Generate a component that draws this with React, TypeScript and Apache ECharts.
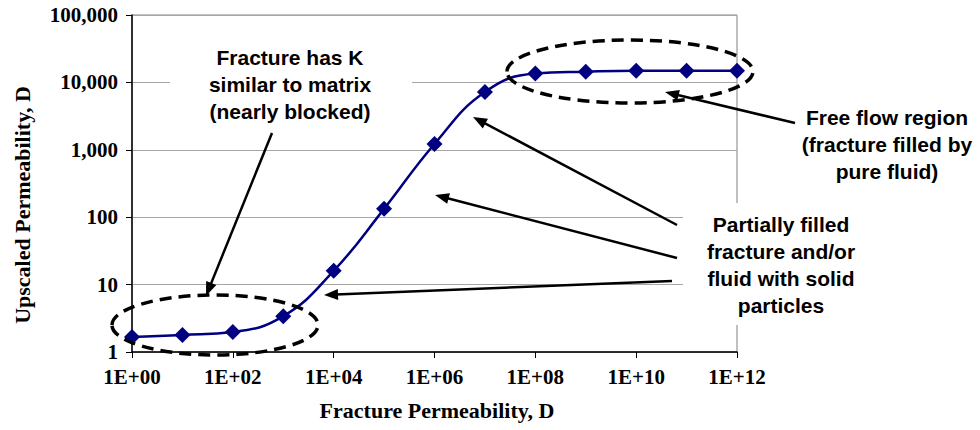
import React, { useEffect, useRef } from "react";
import * as echarts from "echarts";

// Data
const fracturePermeability = [1, 10, 100, 1e3, 1e4, 1e5, 1e6, 1e7, 1e8, 1e9, 1e10, 1e11, 1e12];
const upscaledPermeability = [1.67, 1.79, 1.98, 3.4, 16, 133, 1220, 7200, 13500, 14400, 14900, 14900, 14900];

const xAxisTitle = "Fracture Permeability, D";
const yAxisTitle = "Upscaled Permeability, D";

const noteBlocked = "Fracture has K\nsimilar to matrix\n(nearly blocked)";
const noteFree = "Free flow region\n(fracture filled by\npure fluid)";
const notePartial = "Partially filled\nfracture and/or\nfluid with solid\nparticles";

const SERIF = "'Liberation Serif', 'Times New Roman', serif";
const SANS = "'Liberation Sans', Arial, sans-serif";

function arrow(x1: number, y1: number, x2: number, y2: number) {
  const dx = x2 - x1;
  const dy = y2 - y1;
  const len = Math.sqrt(dx * dx + dy * dy);
  const ux = dx / len;
  const uy = dy / len;
  const L = 14;
  const W = 5.5;
  const bx = x2 - ux * L;
  const by = y2 - uy * L;
  const px = -uy;
  const py = ux;
  return [
    {
      type: "line",
      z: 50,
      shape: { x1, y1, x2: bx + ux * 2, y2: by + uy * 2 },
      style: { stroke: "#000", lineWidth: 2.5 },
    },
    {
      type: "polygon",
      z: 50,
      shape: {
        points: [
          [x2, y2],
          [bx + px * W, by + py * W],
          [bx - px * W, by - py * W],
        ],
      },
      style: { fill: "#000" },
    },
  ];
}

export default function App() {
  const ref = useRef<HTMLDivElement>(null);

  useEffect(() => {
    if (!ref.current) return;
    const chart = echarts.init(ref.current, null, { renderer: "svg" });

    const noteStyle = {
      fill: "#000",
      font: `bold 21px ${SANS}`,
      textAlign: "center",
      textVerticalAlign: "middle",
      lineHeight: 27,
    };

    chart.setOption({
      animation: false,
      backgroundColor: "#fff",
      grid: {
        left: 132,
        right: 243,
        top: 15,
        bottom: 78,
        show: true,
        borderColor: "#808080",
        borderWidth: 1,
        backgroundColor: "transparent",
      },
      xAxis: {
        type: "log",
        logBase: 100,
        min: 1,
        max: 1e12,
        interval: 1,
        splitNumber: 6,
        axisLine: { show: true, onZero: false, lineStyle: { color: "#000", width: 1.5 } },
        axisTick: { show: true, length: 6, lineStyle: { color: "#000", width: 1 } },
        splitLine: { show: false },
        minorTick: { show: false },
        axisLabel: {
          margin: 14,
          color: "#000",
          fontFamily: SERIF,
          fontWeight: "bold",
          fontSize: 21,
          formatter: (v: number) => {
            const e = Math.round(Math.log10(v));
            return "1E+" + String(e).padStart(2, "0");
          },
        },
      },
      yAxis: {
        type: "log",
        logBase: 10,
        min: 1,
        max: 100000,
        splitNumber: 5,
        axisLine: { show: true, onZero: false, lineStyle: { color: "#000", width: 1.5 } },
        axisTick: { show: true, length: 6, lineStyle: { color: "#000", width: 1 } },
        splitLine: { show: true, lineStyle: { color: "#a6a6a6", width: 1 } },
        axisLabel: {
          margin: 14,
          color: "#000",
          fontFamily: SERIF,
          fontWeight: "bold",
          fontSize: 21,
          formatter: (v: number) => Math.round(v).toLocaleString("en-US"),
        },
      },
      series: [
        {
          type: "line",
          data: fracturePermeability.map((x, i) => [x, upscaledPermeability[i]]),
          smooth: 0.45,
          symbol: "diamond",
          symbolSize: 16,
          lineStyle: { color: "#000080", width: 2.5 },
          itemStyle: { color: "#000080" },
          z: 5,
        },
      ],
      graphic: [
        // white text boxes covering grid lines
        { type: "rect", z: 20, shape: { x: 170, y: 38, width: 242, height: 94 }, style: { fill: "#fff" } },
        { type: "rect", z: 20, shape: { x: 683, y: 203, width: 200, height: 122 }, style: { fill: "#fff" } },
        // annotation texts
        { type: "text", z: 30, x: 290, y: 84, style: { ...noteStyle, text: noteBlocked } },
        { type: "text", z: 30, x: 887, y: 144, style: { ...noteStyle, text: noteFree } },
        { type: "text", z: 30, x: 781, y: 265, style: { ...noteStyle, text: notePartial } },
        // dashed ellipses
        {
          type: "ellipse",
          z: 40,
          shape: { cx: 215, cy: 325, rx: 103, ry: 30 },
          style: { fill: "none", stroke: "#000", lineWidth: 3.5, lineDash: [12, 7] },
        },
        {
          type: "ellipse",
          z: 40,
          shape: { cx: 630, cy: 71.5, rx: 123, ry: 31.5 },
          style: { fill: "none", stroke: "#000", lineWidth: 3.5, lineDash: [12, 7] },
        },
        // arrows
        ...arrow(272, 133, 206, 296),
        ...arrow(672, 281, 324, 295),
        ...arrow(677, 258, 435, 195),
        ...arrow(677, 225, 473, 117),
        ...arrow(795, 123, 665, 92),
        // axis titles
        {
          type: "text",
          z: 30,
          x: 437,
          y: 410,
          style: {
            text: xAxisTitle,
            fill: "#000",
            font: `bold 22px ${SERIF}`,
            textAlign: "center",
            textVerticalAlign: "middle",
          },
        },
        {
          type: "text",
          z: 30,
          x: 22,
          y: 205,
          rotation: Math.PI / 2,
          style: {
            text: yAxisTitle,
            fill: "#000",
            font: `bold 22px ${SERIF}`,
            textAlign: "center",
            textVerticalAlign: "middle",
          },
        },
      ],
    });

    return () => chart.dispose();
  }, []);

  return (
    <div
      ref={ref}
      style={{ position: "fixed", left: 0, top: 0, width: 980, height: 430, background: "#fff" }}
    />
  );
}
